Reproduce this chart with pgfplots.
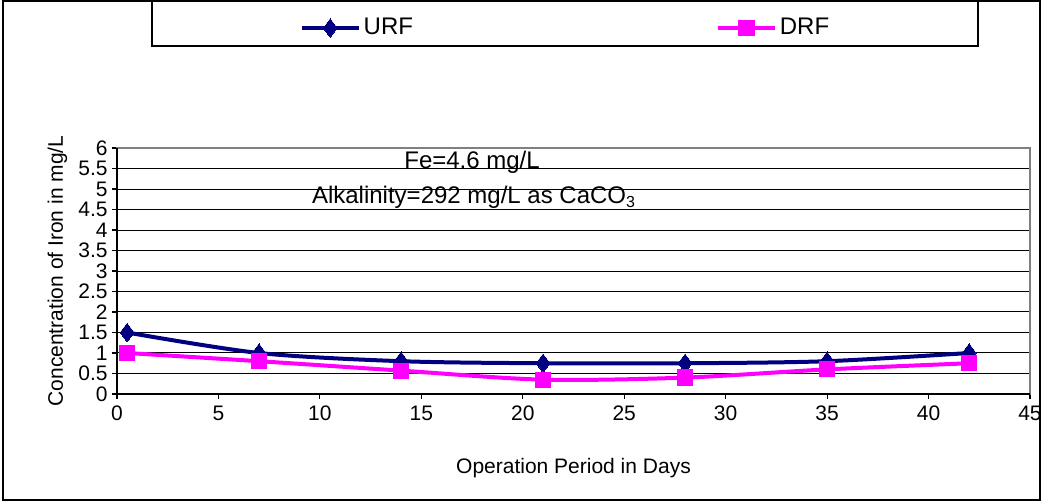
\documentclass[border=0pt]{standalone}
\usepackage{pgfplots}
\pgfplotsset{compat=1.18}
\usepackage{fontspec}
\setmainfont{Liberation Sans}
\definecolor{urf}{HTML}{000080}
\definecolor{drf}{HTML}{FF00FF}
\definecolor{bord}{HTML}{808080}
\begin{document}
\begin{tikzpicture}
\useasboundingbox (-58.5pt,-53.5pt) rectangle (463.5pt,197pt);
\draw[black, line width=0.6pt] (-57pt,-53pt) rectangle (461.5pt,196.5pt);
\draw[black, line width=0.6pt, fill=white] (17.5pt,174pt) rectangle (430.5pt,196.5pt);
\begin{axis}[
  at={(0pt,0pt)}, anchor=south west,
  width=456.5pt, height=123pt, scale only axis,
  xmin=0, xmax=45, ymin=0, ymax=6,
  xtick={0,5,...,45},
  ytick={0,0.5,...,6},
  yticklabels={0,0.5,1,1.5,2,2.5,3,3.5,4,4.5,5,5.5,6},
  tick align=outside, major tick length=2.5pt,
  xtick pos=left, ytick pos=left,
  tick style={black, line width=0.6pt},
  axis line style={draw=bord, line width=0.8pt},
  ymajorgrids, major grid style={black, line width=0.5pt},
  /pgf/number format/assume math mode=true,
  tick label style={font=\fontsize{10.5}{12}\selectfont},
  yticklabel style={inner xsep=2pt},
  xlabel={Operation Period in Days},
  ylabel={Concentration of Iron in mg/L},
  label style={font=\fontsize{10.5}{12}\selectfont},
  xlabel style={yshift=-12pt},
  ylabel style={yshift=0pt},
  legend columns=2,
  legend style={draw=none, fill=none, at={(0.4918,1.488)}, anchor=center,
    font=\fontsize{12}{14}\selectfont,
    nodes={inner xsep=1.5pt},
    /tikz/every even column/.append style={column sep=150pt}},
  legend image code/.code={\draw[mark repeat=2, mark phase=2] plot coordinates {(0cm,0cm) (0.5cm,0cm) (1cm,0cm)};},
  clip=false,
]
\addplot[urf, line width=2pt, smooth, mark=diamond*, mark size=4.6pt, mark options={solid, fill=urf, line width=0pt}]
  coordinates {(0.5,1.5) (7,1.0) (14,0.8) (21,0.75) (28,0.75) (35,0.8) (42,1.0)};
\addlegendentry{URF}
\addplot[drf, line width=2pt, smooth, mark=square*, mark size=3.8pt, mark options={solid, fill=drf, line width=0pt}]
  coordinates {(0.5,1.0) (7,0.8) (14,0.57) (21,0.35) (28,0.4) (35,0.6) (42,0.75)};
\addlegendentry{DRF}
\draw[black, line width=0.8pt] (rel axis cs:0,1) -- (rel axis cs:0,0) -- (rel axis cs:1,0);
\node[font=\fontsize{12}{14}\selectfont] at (axis cs:17.5,5.66) {Fe=4.6 mg/L};
\node[font=\fontsize{12}{14}\selectfont] at (axis cs:17.6,4.8) {Alkalinity=292 mg/L as CaCO\textsubscript{3}};
\end{axis}
\end{tikzpicture}
\end{document}
